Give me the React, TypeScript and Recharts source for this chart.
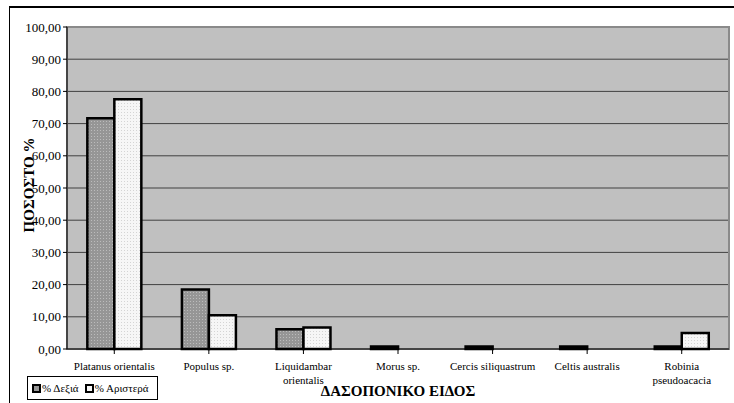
import React from 'react';
import {
  BarChart,
  Bar,
  XAxis,
  YAxis,
  CartesianGrid,
  ReferenceArea,
} from 'recharts';

// species (x categories) and the two percentage series
const species = [
  'Platanus orientalis',
  'Populus sp.',
  'Liquidambar orientalis',
  'Morus sp.',
  'Cercis siliquastrum',
  'Celtis australis',
  'Robinia pseudoacacia',
];
const rightBank = [71.7, 18.5, 6.1, 0.8, 0.8, 0.8, 0.8];
const leftBank = [77.6, 10.5, 6.7, 0, 0, 0, 5.0];
const yTicks = [0, 10, 20, 30, 40, 50, 60, 70, 80, 90, 100];

const data = species.map((name, i) => ({
  name,
  right: rightBank[i],
  left: leftBank[i],
}));

const FONT = "'Liberation Serif', 'Times New Roman', serif";

function formatPct(v: number): string {
  return v.toFixed(2).replace('.', ',');
}

// long names wrap onto two lines
function SpeciesTick(props: any) {
  const { x, y, payload } = props;
  const text: string = payload.value;
  const lines = text.length >= 20 ? text.split(' ') : [text];
  return (
    <g transform={`translate(${x},${y})`}>
      {lines.map((line, i) => (
        <text
          key={i}
          x={0}
          y={10 + i * 14}
          dy="0.35em"
          textAnchor="middle"
          style={{ fontFamily: FONT, fontSize: 11 }}
          fill="#000"
        >
          {line}
        </text>
      ))}
    </g>
  );
}

function ValueTick(props: any) {
  const { x, y, payload } = props;
  return (
    <text
      x={x}
      y={y}
      dy="0.35em"
      textAnchor="end"
      style={{ fontFamily: FONT, fontSize: 13 }}
      fill="#000"
    >
      {formatPct(payload.value)}
    </text>
  );
}

function YTitle(props: any) {
  const { viewBox } = props;
  const cx = viewBox.x + 29;
  const cy = viewBox.y + viewBox.height / 2 - 3;
  return (
    <text
      x={cx}
      y={cy}
      dy="0.35em"
      textAnchor="middle"
      transform={`rotate(-90, ${cx}, ${cy})`}
      style={{ fontFamily: FONT, fontSize: 15, fontWeight: 'bold' }}
      fill="#000"
    >
      ΠΟΣΟΣΤΟ %
    </text>
  );
}

function LegendIcon({ fill }: { fill: string }) {
  return (
    <svg width={9} height={9} style={{ marginRight: 1 }}>
      <rect x={1} y={1} width={7} height={7} fill={fill} stroke="#000" strokeWidth={2} />
    </svg>
  );
}

export default function App() {
  return (
    <div
      style={{
        position: 'absolute',
        left: 0,
        top: 0,
        width: 734,
        height: 403,
        overflow: 'hidden',
        background: '#fff',
        fontFamily: FONT,
      }}
    >
      {/* chart frame */}
      <div
        style={{
          position: 'absolute',
          left: 9,
          top: 6,
          width: 740,
          height: 420,
          border: '1.5px solid #000',
          borderTopWidth: 2,
          boxSizing: 'border-box',
        }}
      />
      <BarChart
        width={734}
        height={403}
        data={data}
        margin={{ top: 27, right: 5, bottom: 0, left: 0 }}
        barCategoryGap="21.5%"
        barGap={0}
        style={{ position: 'absolute', left: 0, top: 0 }}
      >
        <defs>
          <pattern id="dotsDark" width={3} height={3} patternUnits="userSpaceOnUse">
            <rect width={3} height={3} fill="#969696" />
            <rect x={1} y={1} width={1} height={1} fill="#bcbcbc" />
          </pattern>
          <pattern id="dotsLight" width={3} height={3} patternUnits="userSpaceOnUse">
            <rect width={3} height={3} fill="#f6f6f6" />
            <rect x={1} y={1} width={1} height={1} fill="#d4d4d4" />
          </pattern>
        </defs>
        <CartesianGrid vertical={false} fill="#c0c0c0" stroke="#404040" strokeWidth={1} />
        <ReferenceArea
          y1={0}
          y2={100}
          fill="none"
          stroke="#8a8a8a"
          strokeWidth={2}
          ifOverflow="visible"
        />
        <XAxis
          dataKey="name"
          height={54}
          interval={0}
          tick={<SpeciesTick />}
          tickSize={5}
          axisLine={{ stroke: '#000' }}
          tickLine={{ stroke: '#000' }}
        />
        <YAxis
          width={67}
          domain={[0, 100]}
          ticks={yTicks}
          interval={0}
          tickSize={4}
          tickMargin={2}
          axisLine={{ stroke: '#000' }}
          tickLine={{ stroke: '#000' }}
          tick={<ValueTick />}
          label={<YTitle />}
        />
        <Bar
          dataKey="right"
          name="% Δεξιά"
          fill="url(#dotsDark)"
          stroke="#000"
          strokeWidth={2.5}
          isAnimationActive={false}
        />
        <Bar
          dataKey="left"
          name="% Αριστερά"
          fill="url(#dotsLight)"
          stroke="#000"
          strokeWidth={2.5}
          isAnimationActive={false}
        />
      </BarChart>

      {/* x axis title */}
      <div
        style={{
          position: 'absolute',
          left: 67,
          width: 662,
          top: 381,
          textAlign: 'center',
          fontWeight: 'bold',
          fontSize: 15,
          lineHeight: '20px',
        }}
      >
        ΔΑΣΟΠΟΝΙΚΟ ΕΙΔΟΣ
      </div>

      {/* legend */}
      <div
        style={{
          position: 'absolute',
          left: 27,
          top: 376,
          width: 131,
          height: 24,
          border: '1px solid #000',
          boxSizing: 'border-box',
          display: 'flex',
          alignItems: 'center',
          paddingLeft: 4,
          fontSize: 11,
          background: '#fff',
        }}
      >
        <LegendIcon fill="#969696" />
        <span style={{ marginRight: 6 }}>% Δεξιά</span>
        <LegendIcon fill="#f6f6f6" />
        <span>% Αριστερά</span>
      </div>
    </div>
  );
}
